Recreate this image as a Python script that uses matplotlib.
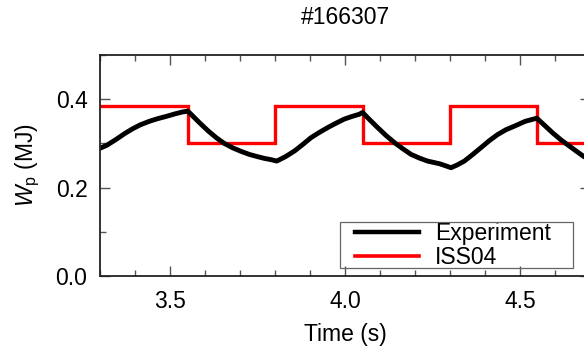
import matplotlib
matplotlib.use("Agg")
import matplotlib.pyplot as plt
from matplotlib.patches import Rectangle
from matplotlib.ticker import MultipleLocator, FormatStrFormatter

plt.rcParams.update({
    "font.family": "Liberation Sans",
    "mathtext.fontset": "custom",
    "mathtext.rm": "Liberation Sans",
    "mathtext.it": "Liberation Sans:italic",
    "font.size": 16.5,
})

SHOT = "#166307"

# measured stored energy (MJ)
exp_time = [3.300, 3.320, 3.346, 3.370, 3.393, 3.415, 3.441, 3.465, 3.489, 3.515,
            3.535, 3.551, 3.565, 3.584, 3.608, 3.632, 3.655, 3.679, 3.703, 3.727,
            3.750, 3.770, 3.790, 3.805, 3.830, 3.856, 3.880, 3.903, 3.927, 3.951,
            3.975, 3.998, 4.020, 4.041, 4.050, 4.070, 4.093, 4.117, 4.141, 4.165,
            4.189, 4.212, 4.236, 4.270, 4.285, 4.303, 4.320, 4.341, 4.365, 4.388,
            4.412, 4.436, 4.460, 4.484, 4.515, 4.548, 4.570, 4.593, 4.617, 4.641,
            4.660, 4.681, 4.710]
exp_wp = [0.289, 0.296, 0.309, 0.322, 0.333, 0.342, 0.350, 0.356, 0.361, 0.367,
          0.371, 0.373, 0.362, 0.347, 0.329, 0.313, 0.300, 0.290, 0.282, 0.275,
          0.270, 0.266, 0.263, 0.260, 0.270, 0.283, 0.298, 0.313, 0.325, 0.336,
          0.346, 0.355, 0.361, 0.366, 0.370, 0.354, 0.336, 0.318, 0.302, 0.288,
          0.275, 0.267, 0.260, 0.254, 0.250, 0.245, 0.251, 0.260, 0.275, 0.290,
          0.306, 0.320, 0.331, 0.339, 0.350, 0.357, 0.341, 0.324, 0.308, 0.294,
          0.283, 0.271, 0.258]

# ISS04 scaling prediction, piecewise constant (MJ)
iss_edges = [3.30, 3.55, 3.80, 4.05, 4.30, 4.55, 4.75]
iss_wp = [0.385, 0.300, 0.385, 0.300, 0.385, 0.300]

fig = plt.figure(figsize=(5.84, 3.49), dpi=100)
# axes run past the right edge of the figure
ax = fig.add_axes([100 / 584, 73 / 349, 490 / 584, 221 / 349])

ax.plot(exp_time, exp_wp, color="black", lw=3.5, label="Experiment")
ax.stairs(iss_wp, iss_edges, color="red", lw=2.4, baseline=None, label="ISS04")

ax.set_xlim(3.3, 4.7)
ax.set_ylim(0.0, 0.5)
ax.xaxis.set_major_locator(MultipleLocator(0.5))
ax.xaxis.set_minor_locator(MultipleLocator(0.1))
ax.yaxis.set_major_locator(MultipleLocator(0.2))
ax.yaxis.set_minor_locator(MultipleLocator(0.1))
ax.xaxis.set_major_formatter(FormatStrFormatter("%.1f"))
ax.yaxis.set_major_formatter(FormatStrFormatter("%.1f"))

ax.tick_params(which="both", direction="in", top=True, right=True,
               color="#555555", width=1.0, labelsize=16.5)
ax.tick_params(which="major", length=7)
ax.tick_params(axis="x", which="major", pad=10)
ax.tick_params(axis="y", which="major", pad=9)
ax.tick_params(which="minor", length=4)
for sp in ax.spines.values():
    sp.set_linewidth(1.3)
    sp.set_color("#222222")

ax.set_xlabel("Time (s)", fontsize=16.5, labelpad=7)
ax.set_ylabel(r"$W_\mathrm{p}$ (MJ)", fontsize=16.5, labelpad=10)
fig.text(345 / 584, 1 - 18 / 349, SHOT, ha="center", va="center", fontsize=16.5)

# legend entries without their own frame; the box is drawn separately
leg = ax.legend(loc="upper left", bbox_to_anchor=(355 / 584, 1 - 222 / 349),
                bbox_transform=fig.transFigure, borderaxespad=0, borderpad=0,
                frameon=False, fontsize=16.5, handlelength=2.8,
                labelspacing=0.05, handletextpad=0.7)
for line in leg.get_lines():
    line.set_linewidth(3.2 if line.get_color() == "black" else 2.6)

fig.add_artist(Rectangle((340 / 584, 1 - 268 / 349), 233 / 584, 46 / 349,
                         transform=fig.transFigure, facecolor="none",
                         edgecolor="#666666", lw=0.9, zorder=5))

fig.savefig("out.png", dpi=100)
